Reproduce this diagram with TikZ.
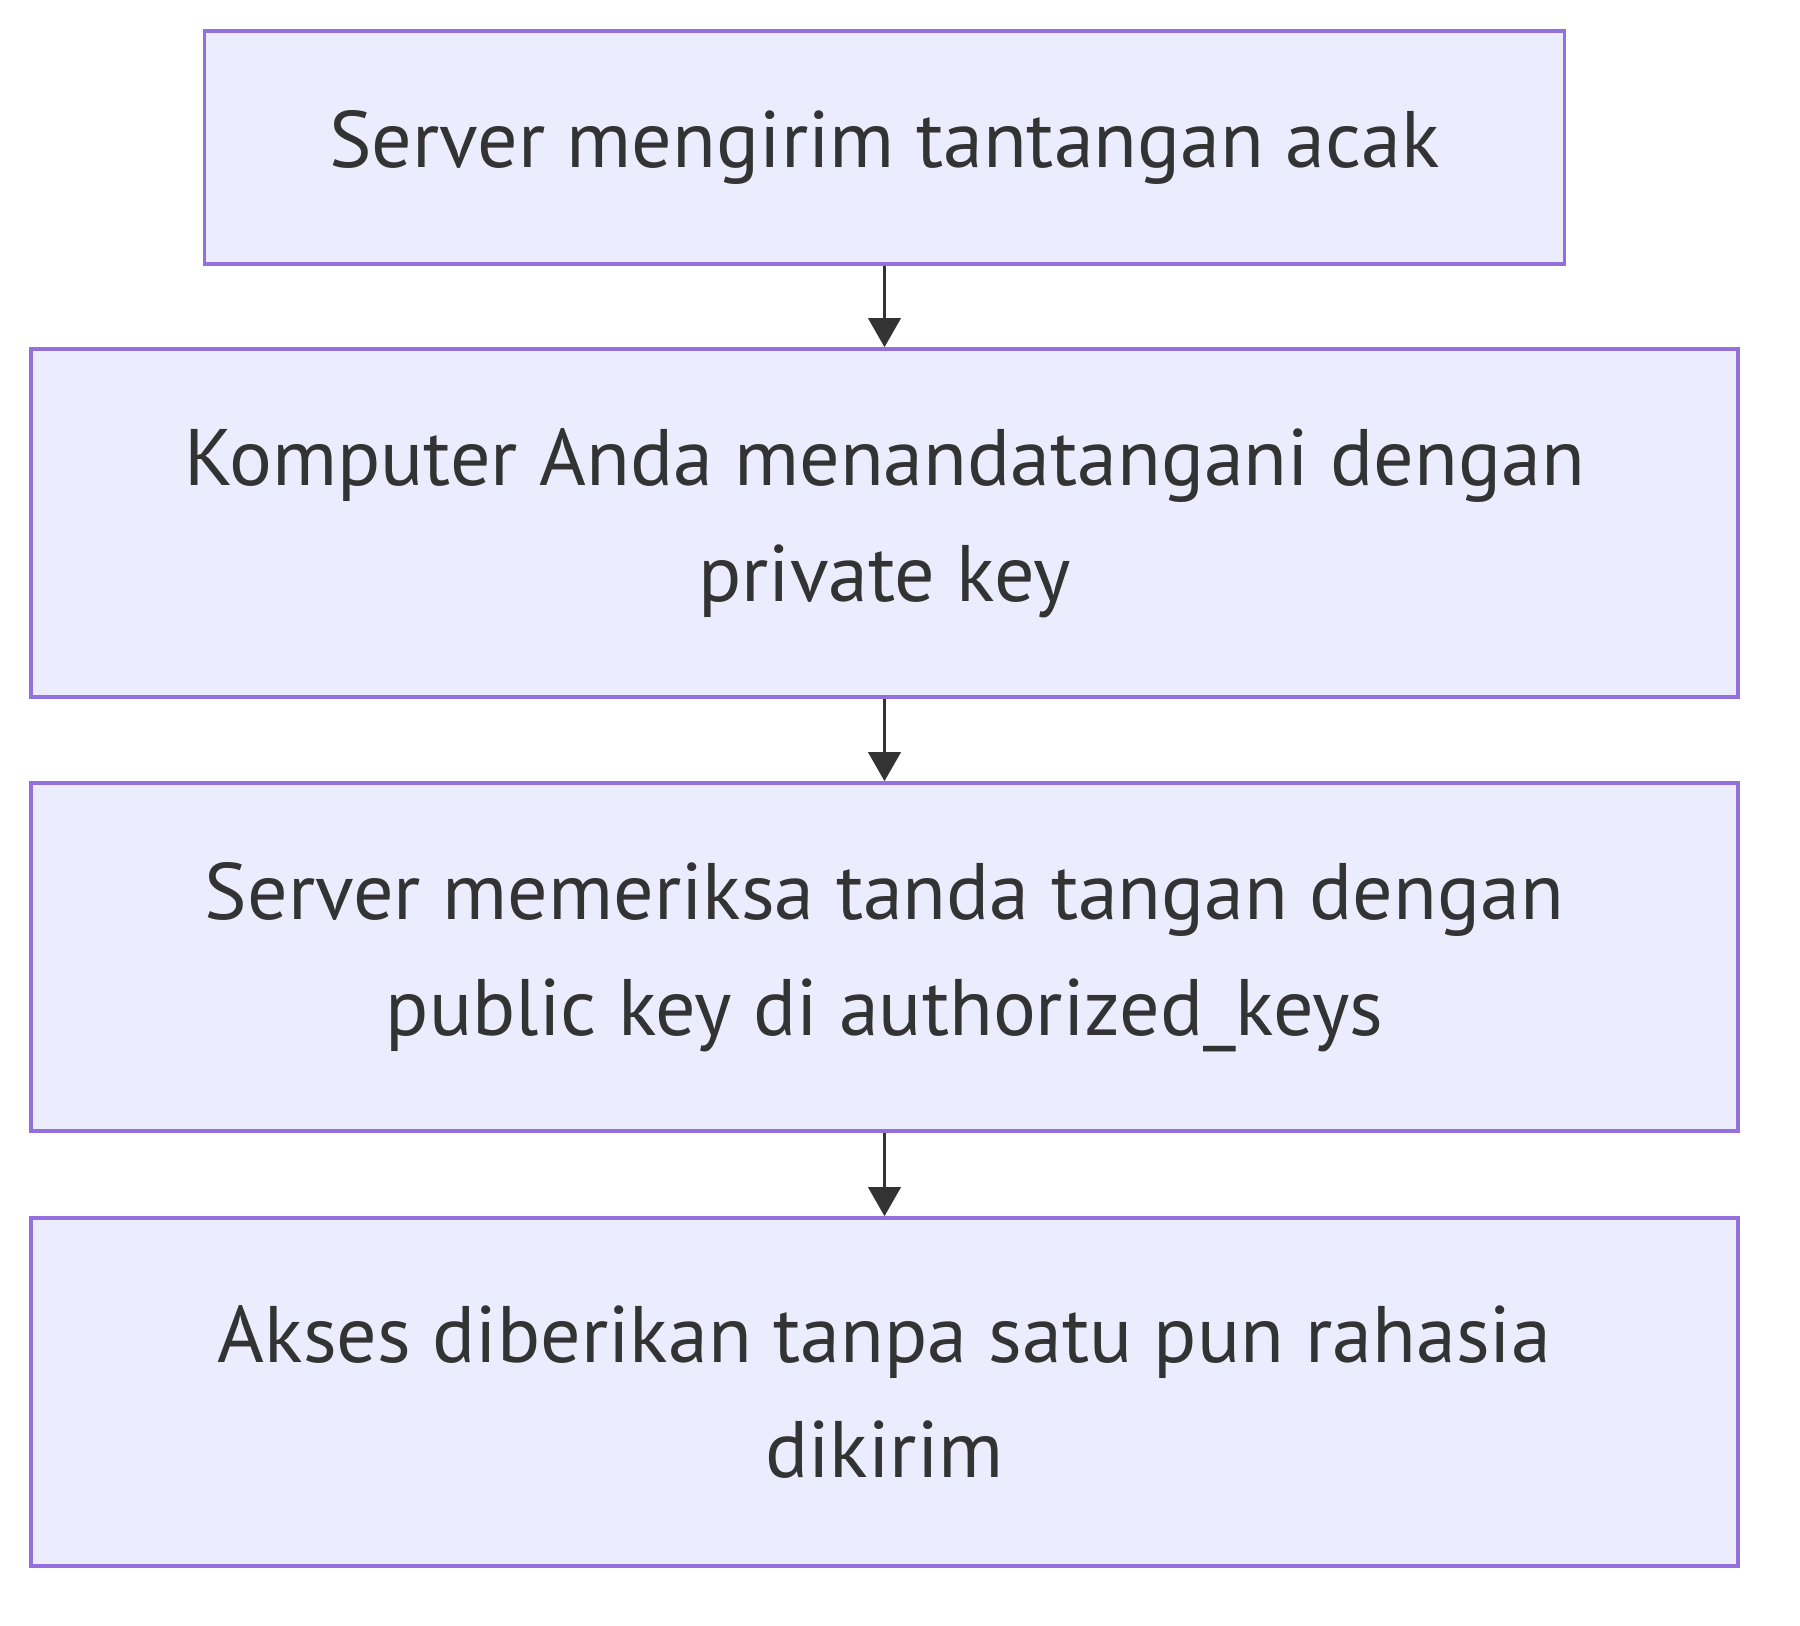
\documentclass[tikz,border=0pt]{standalone}
\usepackage{fontspec}
\setmainfont{PT Sans}
\usetikzlibrary{arrows.meta}

\definecolor{boxfill}{HTML}{ECECFF}
\definecolor{boxline}{HTML}{9370DB}
\definecolor{ink}{HTML}{333333}

\begin{document}
\begin{tikzpicture}
  [x=1cm,y=1cm,
   stepbox/.style={draw=boxline,fill=boxfill,line width=1pt,
     text=ink,align=center,inner sep=0pt,
     minimum width=17.07cm,minimum height=3.48cm,
     font=\fontsize{22.8}{33}\selectfont},
   flow/.style={draw=ink,line width=1.1pt,-{Triangle[length=2.9mm,width=3.2mm]}}]

  \useasboundingbox (0,0) rectangle (18,-16.26);

  \node[stepbox,minimum width=13.6cm,minimum height=2.33cm]
    (challenge) at (8.845,-1.475) {Server mengirim tantangan acak};
  \node[stepbox] (sign) at (8.845,-5.23)
    {Komputer Anda menandatangani dengan\\private key};
  \node[stepbox] (verify) at (8.845,-9.57)
    {Server memeriksa tanda tangan dengan\\public key di authorized\_keys};
  \node[stepbox] (grant) at (8.845,-13.92)
    {Akses diberikan tanpa satu pun rahasia\\dikirim};

  \draw[flow] (challenge) -- (sign);
  \draw[flow] (sign) -- (verify);
  \draw[flow] (verify) -- (grant);
\end{tikzpicture}
\end{document}
